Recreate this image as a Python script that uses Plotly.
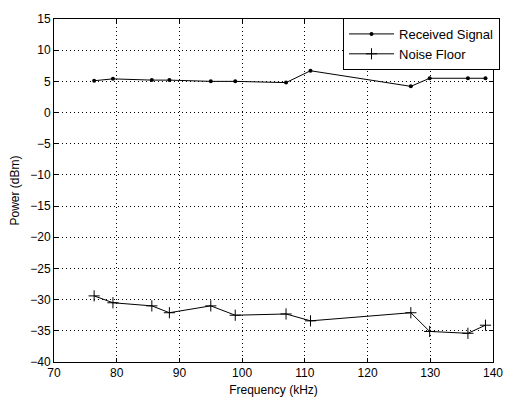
import plotly.graph_objects as go

freq = [76.4, 79.4, 85.6, 88.4, 95.0, 98.9, 107.0, 110.9, 126.9, 129.9, 136.0, 138.8]
received = [5.1, 5.4, 5.2, 5.2, 5.0, 5.0, 4.8, 6.7, 4.2, 5.5, 5.5, 5.5]
noise = [-29.4, -30.5, -31.0, -32.1, -31.0, -32.5, -32.3, -33.4, -32.1, -35.1, -35.4, -34.1]

xticks = [70, 80, 90, 100, 110, 120, 130, 140]
yticks = [-40, -35, -30, -25, -20, -15, -10, -5, 0, 5, 10, 15]

FONT = "Liberation Sans, Arial"

fig = go.Figure()
fig.add_trace(go.Scatter(x=freq, y=received, mode="lines+markers", name="Received Signal",
                         line=dict(color="black", width=1),
                         marker=dict(symbol="circle", size=4, color="black")))
fig.add_trace(go.Scatter(x=freq, y=noise, mode="lines+markers", name="Noise Floor",
                         line=dict(color="black", width=1),
                         marker=dict(symbol="cross-thin", size=8, color="black",
                                     line=dict(color="black", width=1))))

axis_common = dict(showline=True, linecolor="black", linewidth=1, mirror="ticks",
                   ticks="inside", ticklen=4, tickcolor="black",
                   showgrid=True, gridcolor="black", griddash="1px,3px", gridwidth=1,
                   zeroline=False, tickfont=dict(family=FONT, size=12, color="black"))

fig.update_xaxes(range=[70, 140], tickvals=xticks,
                 title=dict(text="Frequency (kHz)", font=dict(family=FONT, size=12, color="black"), standoff=6),
                 **axis_common)
fig.update_yaxes(range=[-40, 15], tickvals=yticks,
                 title=dict(text="Power (dBm)", font=dict(family=FONT, size=12, color="black"), standoff=8),
                 **axis_common)

fig.update_layout(width=515, height=407, margin=dict(l=54, r=13, t=12, b=42),
                  paper_bgcolor="white", plot_bgcolor="white",
                  font=dict(family=FONT, size=12, color="black"),
                  legend=dict(x=1.016, y=1.003, xanchor="right", yanchor="top",
                              bordercolor="black", borderwidth=1, bgcolor="white",
                              font=dict(size=13), itemwidth=45, tracegroupgap=0))

fig.write_html("out.html")
